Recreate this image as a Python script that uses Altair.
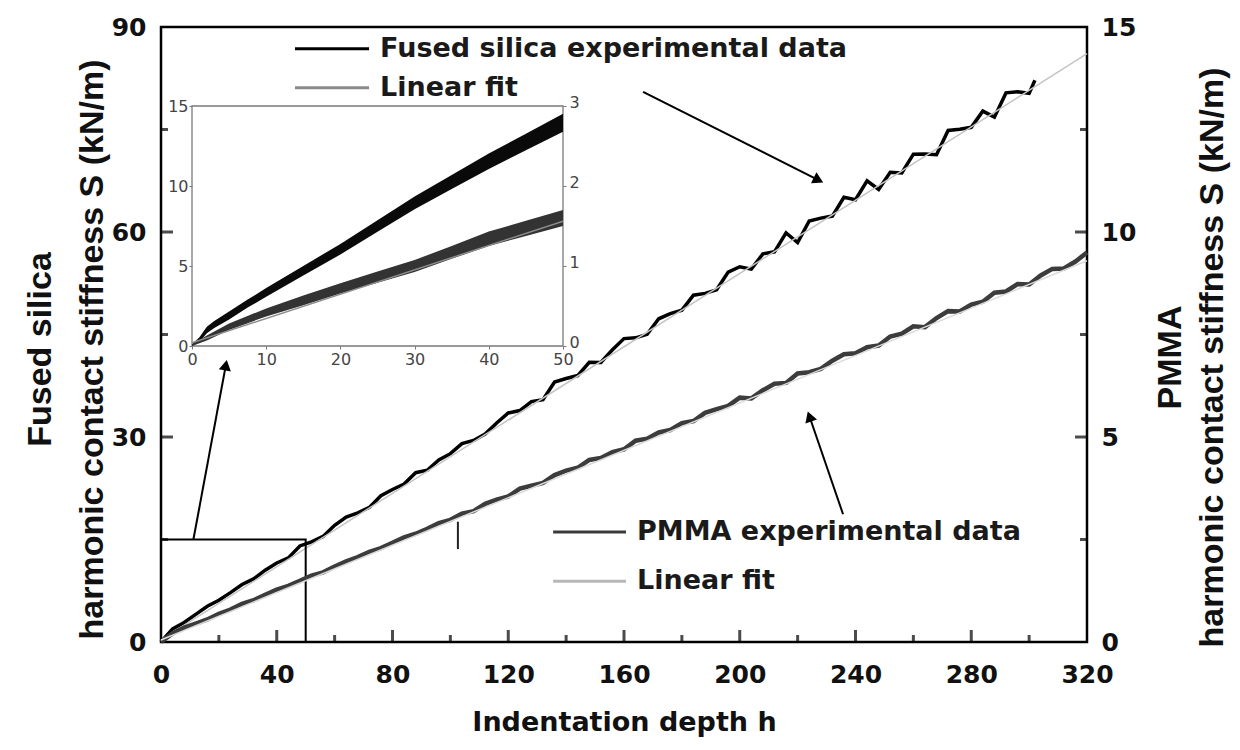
import altair as alt
import pandas as pd

W, H = 926, 615
FONT_H = "DejaVu Sans"
FONT_V = "Liberation Sans"

# ---------------- data ----------------
fs_h = [0, 4, 8, 12, 16, 20, 24, 28, 32, 36,
        40, 44, 48, 52, 56, 60, 64, 68, 72, 76,
        80, 84, 88, 92, 96, 100, 104, 108, 112, 116,
        120, 124, 128, 132, 136, 140, 144, 148, 152, 156,
        160, 164, 168, 172, 176, 180, 184, 188, 192, 196,
        200, 204, 208, 212, 216, 220, 224, 228, 232, 236,
        240, 244, 248, 252, 256, 260, 264, 268, 272, 276,
        280, 284, 288, 292, 296, 300, 302]
fs_S = [0, 1.92, 2.85, 4.05, 5.23, 6.10, 7.22, 8.41, 9.23, 10.51,
        11.56, 12.31, 14.06, 14.66, 15.45, 17.08, 18.27, 18.90, 19.70, 21.41,
        22.32, 23.11, 24.78, 25.14, 26.65, 27.56, 29.03, 29.50, 30.42, 32.05,
        33.52, 33.87, 35.18, 35.46, 38.05, 38.56, 38.99, 40.94, 40.90, 42.77,
        44.40, 44.51, 45.02, 47.30, 48.05, 48.56, 50.75, 51.02, 51.54, 54.13,
        54.92, 54.56, 56.80, 57.10, 59.86, 58.46, 61.61, 62.03, 62.33, 65.09,
        64.73, 67.49, 66.22, 68.73, 68.63, 71.39, 71.42, 71.32, 74.87, 75.03,
        75.32, 77.69, 76.81, 80.36, 80.52, 80.29, 82.2]

pm_h = [0, 4, 8, 12, 16, 20, 24, 28, 32, 36,
        40, 44, 48, 52, 56, 60, 64, 68, 72, 76,
        80, 84, 88, 92, 96, 100, 104, 108, 112, 116,
        120, 124, 128, 132, 136, 140, 144, 148, 152, 156,
        160, 164, 168, 172, 176, 180, 184, 188, 192, 196,
        200, 204, 208, 212, 216, 220, 224, 228, 232, 236,
        240, 244, 248, 252, 256, 260, 264, 268, 272, 276,
        280, 284, 288, 292, 296, 300, 304, 308, 312, 316, 320]
pm_S = [0, 0.21, 0.35, 0.45, 0.55, 0.69, 0.79, 0.93, 1.02, 1.15,
        1.28, 1.37, 1.49, 1.62, 1.70, 1.84, 1.97, 2.07, 2.20, 2.29,
        2.42, 2.55, 2.64, 2.76, 2.90, 2.98, 3.13, 3.19, 3.37, 3.47,
        3.55, 3.74, 3.81, 3.88, 4.07, 4.18, 4.25, 4.44, 4.49, 4.63,
        4.70, 4.91, 4.96, 5.11, 5.17, 5.34, 5.39, 5.59, 5.68, 5.76,
        5.96, 5.94, 6.14, 6.30, 6.32, 6.55, 6.58, 6.66, 6.86, 7.02,
        7.04, 7.19, 7.23, 7.45, 7.52, 7.70, 7.68, 7.90, 8.07, 8.06,
        8.23, 8.30, 8.52, 8.55, 8.73, 8.72, 8.94, 9.10, 9.11, 9.28, 9.50]

fit_h = [0, 320]
fs_fit_S = [0.3, 86.1]
pm_fit_S = [0.05, 9.3]

# inset (0-50 nm)
in_fs_h = [0, 1, 2, 3, 5, 7.5, 10, 15, 20, 25, 30, 35, 40, 45, 50]
in_fs_lo = [0, 0.25, 0.8, 1.13, 1.65, 2.4, 3.08, 4.4, 5.72, 7.14, 8.55, 9.81, 11.07, 12.23, 13.39]
in_fs_hi = [0.1, 0.55, 1.2, 1.57, 2.15, 2.9, 3.62, 5.0, 6.38, 7.86, 9.35, 10.69, 12.03, 13.27, 14.51]
in_pm_h = [0, 2, 5, 10, 15, 20, 25, 30, 35, 40, 45, 50]
in_pm_lo = [0, 0.07, 0.2, 0.37, 0.51, 0.655, 0.79, 0.925, 1.09, 1.25, 1.375, 1.5]
in_pm_hi = [0.02, 0.13, 0.28, 0.47, 0.63, 0.785, 0.93, 1.075, 1.25, 1.43, 1.565, 1.7]
in_fit_h = [0, 50]
in_pm_fit = [0.04, 1.56]

# tick values
x_ticks = [0, 40, 80, 120, 160, 200, 240, 280, 320]
x_major_in = [40, 80, 120, 160, 200, 240, 280]
x_minor_in = [20, 60, 100, 140, 180, 220, 260, 300]
yl_ticks = [0, 30, 60, 90]
yl_major_in = [30, 60]
yl_minor_in = [15, 45, 75]
yr_ticks = [0, 5, 10, 15]
yr_major_in = [5, 10]
yr_minor_in = [2.5, 7.5, 12.5]
in_x_ticks = [0, 10, 20, 30, 40, 50]
in_yl_ticks = [0, 5, 10, 15]
in_yr_ticks = [0, 1, 2, 3]

# legends (in main data coordinates)
leg_text = ["Fused silica experimental data", "Linear fit", "PMMA experimental data", "Linear fit"]
leg_h0 = [46.3, 46.3, 135.5, 135.5]
leg_h1 = [71.9, 71.9, 160.7, 160.7]
leg_th = [75.7, 75.7, 164.5, 164.5]
leg_S = [86.8, 81.1, 16.1, 8.9]
leg_col = ["#000000", "#8a8a8a", "#3a3a3a", "#b8b8b8"]

# arrows (tail -> head) in main data coordinates
arr_h0 = [166.6, 235.7, 11.2]
arr_S0 = [80.5, 18.7, 15.0]
arr_h1 = [227.2, 224.1, 22.4]
arr_S1 = [67.6, 33.0, 40.5]
arr_ang = [26.6, 251.1, 280.6]

# zoom box and a stray mark
box_h = [0, 50]
box_S = [0, 15]
stray_h = [102.6]
stray_S0 = [13.6]
stray_S1 = [17.6]

# ---------------- scales ----------------
X = alt.Scale(domain=[0, 320], nice=False, zero=False)
YL = alt.Scale(domain=[0, 90], nice=False, zero=False)
YR = alt.Scale(domain=[0, 15], nice=False, zero=False)
XI = alt.Scale(domain=[0, 50], range=[31, 402], nice=False, zero=False)
YI = alt.Scale(domain=[0, 15], range=[319, 79], nice=False, zero=False)
YIR = alt.Scale(domain=[0, 3], range=[319, 79], nice=False, zero=False)

x_axis = alt.Axis(orient="bottom", values=x_ticks, ticks=False, domain=False, grid=False,
                  labelFont=FONT_H, labelFontWeight="bold", labelFontSize=25, labelColor="#111",
                  labelPadding=20, labelFlush=False, labelOverlap=False,
                  title="Indentation depth h", titleFont=FONT_H, titleFontWeight="bold",
                  titleFontSize=27, titleColor="#111", titleY=67, titleBaseline="top")
yl_axis = alt.Axis(orient="left", values=yl_ticks, ticks=False, domain=False, grid=False,
                   labelFont=FONT_H, labelFontWeight="bold", labelFontSize=25, labelColor="#111",
                   labelPadding=15, labelFlush=False, labelOverlap=False,
                   title=["Fused silica", "harmonic contact stiffness S (kN/m)"],
                   titleFont=FONT_V, titleFontWeight="bold", titleFontSize=34, titleColor="#111",
                   titleLineHeight=52, titleAngle=270, titleAlign="center", titleBaseline="middle",
                   titleX=-121, titleY=322)
yr_axis = alt.Axis(orient="right", values=yr_ticks, ticks=False, domain=False, grid=False,
                   labelFont=FONT_H, labelFontWeight="bold", labelFontSize=25, labelColor="#111",
                   labelPadding=14, labelFlush=False, labelOverlap=False,
                   title=["PMMA", "harmonic contact stiffness S (kN/m)"],
                   titleFont=FONT_V, titleFontWeight="bold", titleFontSize=34, titleColor="#111",
                   titleLineHeight=42, titleAngle=270, titleAlign="center", titleBaseline="middle",
                   titleX=83, titleY=330)
in_x_axis = alt.Axis(orient="bottom", offset=-296, values=in_x_ticks, domain=False, ticks=True,
                     tickSize=3, tickColor="#777", grid=False, labelFont=FONT_H, labelFontSize=16,
                     labelColor="#444", labelPadding=2, labelFlush=False, labelOverlap=False, title=None)
in_yl_axis = alt.Axis(orient="left", offset=-31, values=in_yl_ticks, domain=False, ticks=True,
                      tickSize=3, tickColor="#777", grid=False, labelFont=FONT_H, labelFontSize=16,
                      labelColor="#444", labelPadding=1, labelFlush=False, labelOverlap=False, title=None)
in_yr_axis = alt.Axis(orient="right", offset=-524, values=in_yr_ticks, domain=False, ticks=True,
                      tickSize=3, tickColor="#777", grid=False, labelFont=FONT_H, labelFontSize=16,
                      labelColor="#444", labelPadding=3, labelOffset=-4, labelFlush=False,
                      labelOverlap=False, title=None)

# ---------------- data frames ----------------
df_fs = pd.DataFrame({"h": fs_h, "S": fs_S})
df_pm = pd.DataFrame({"h": pm_h, "S": pm_S})
df_fs_fit = pd.DataFrame({"h": fit_h, "S": fs_fit_S})
df_pm_fit = pd.DataFrame({"h": fit_h, "S": pm_fit_S})
df_leg = pd.DataFrame({"h0": leg_h0, "h1": leg_h1, "th": leg_th, "S": leg_S, "txt": leg_text, "col": leg_col})
df_arr = pd.DataFrame({"h0": arr_h0, "S0": arr_S0, "h1": arr_h1, "S1": arr_S1, "ang": arr_ang})
df_box = pd.DataFrame({"h0": [box_h[0]], "h1": [box_h[1]], "S0": [box_S[0]], "S1": [box_S[1]]})
df_stray = pd.DataFrame({"h": stray_h, "S0": stray_S0, "S1": stray_S1})
df_xmaj = pd.DataFrame({"v": x_major_in, "base": [0] * len(x_major_in)})
df_xmin = pd.DataFrame({"v": x_minor_in, "base": [0] * len(x_minor_in)})
df_ylmaj = pd.DataFrame({"v": yl_major_in, "base": [0] * len(yl_major_in)})
df_ylmin = pd.DataFrame({"v": yl_minor_in, "base": [0] * len(yl_minor_in)})
df_yrmaj = pd.DataFrame({"v": yr_major_in, "base": [320] * len(yr_major_in)})
df_yrmin = pd.DataFrame({"v": yr_minor_in, "base": [320] * len(yr_minor_in)})
df_in_fs = pd.DataFrame({"h": in_fs_h, "lo": in_fs_lo, "hi": in_fs_hi})
df_in_pm = pd.DataFrame({"h": in_pm_h, "lo": in_pm_lo, "hi": in_pm_hi})
df_in_pm_fit = pd.DataFrame({"h": in_fit_h, "S": in_pm_fit})
df_in_frame = pd.DataFrame({"h0": [0], "h1": [50], "S0": [0], "S1": [15]})


# helpers: every layer of a group carries the same axis so the shared axis survives
def mx(field):
    return alt.X(field, type="quantitative", scale=X, axis=x_axis)


def myl(field):
    return alt.Y(field, type="quantitative", scale=YL, axis=yl_axis)


# ---------------- main (left scale) ----------------
fs_line = alt.Chart(df_fs).mark_line(color="black", strokeWidth=3.5).encode(x=mx("h"), y=myl("S"))
fs_fit = alt.Chart(df_fs_fit).mark_line(color="#c4c4c4", strokeWidth=1.5).encode(x=mx("h"), y=myl("S"))
box = alt.Chart(df_box).mark_rect(fillOpacity=0, stroke="black", strokeWidth=2).encode(
    x=mx("h0"), x2="h1:Q", y=myl("S0"), y2="S1:Q")
stray = alt.Chart(df_stray).mark_rule(color="#222", strokeWidth=2).encode(
    x=mx("h"), y=myl("S0"), y2="S1:Q")
arr_lines = alt.Chart(df_arr).mark_rule(color="black", strokeWidth=2).encode(
    x=mx("h0"), x2="h1:Q", y=myl("S0"), y2="S1:Q")
arr_heads = alt.Chart(df_arr).mark_point(shape="triangle-right", filled=True, size=150,
                                          color="black", opacity=1).encode(
    x=mx("h1"), y=myl("S1"), angle=alt.Angle("ang:Q", scale=None))
leg_lines = alt.Chart(df_leg).mark_rule(strokeWidth=3).encode(
    x=mx("h0"), x2="h1:Q", y=myl("S"), color=alt.Color("col:N", scale=None))
leg_texts = alt.Chart(df_leg).mark_text(align="left", baseline="middle", font=FONT_H,
                                         fontWeight="bold", fontSize=27, color="#1a1a1a").encode(
    x=mx("th"), y=myl("S"), text="txt:N")
xt_maj = alt.Chart(df_xmaj).mark_tick(orient="vertical", size=12, thickness=3, color="black",
                                      yOffset=-6).encode(x=mx("v"), y=myl("base"))
xt_min = alt.Chart(df_xmin).mark_tick(orient="vertical", size=7, thickness=3, color="black",
                                      yOffset=-3.5).encode(x=mx("v"), y=myl("base"))
yt_maj = alt.Chart(df_ylmaj).mark_tick(orient="horizontal", size=12, thickness=3, color="black",
                                       xOffset=6).encode(x=mx("base"), y=myl("v"))
yt_min = alt.Chart(df_ylmin).mark_tick(orient="horizontal", size=7, thickness=3, color="black",
                                       xOffset=3.5).encode(x=mx("base"), y=myl("v"))

main = alt.layer(fs_line, fs_fit, box, stray, arr_lines, arr_heads, leg_lines, leg_texts,
                 xt_maj, xt_min, yt_maj, yt_min)


# ---------------- PMMA (right scale) ----------------
def px(field):
    return alt.X(field, type="quantitative", scale=X, axis=None)


def pyr(field):
    return alt.Y(field, type="quantitative", scale=YR, axis=yr_axis)


pm_line = alt.Chart(df_pm).mark_line(color="#3c3c3c", strokeWidth=4.5).encode(x=px("h"), y=pyr("S"))
pm_fit = alt.Chart(df_pm_fit).mark_line(color="#dadada", strokeWidth=1.5).encode(x=px("h"), y=pyr("S"))
yrt_maj = alt.Chart(df_yrmaj).mark_tick(orient="horizontal", size=12, thickness=3, color="black",
                                        xOffset=-6).encode(x=px("base"), y=pyr("v"))
yrt_min = alt.Chart(df_yrmin).mark_tick(orient="horizontal", size=7, thickness=3, color="black",
                                        xOffset=-3.5).encode(x=px("base"), y=pyr("v"))
pmma = alt.layer(pm_line, pm_fit, yrt_maj, yrt_min)


# ---------------- inset ----------------
def ix(field):
    return alt.X(field, type="quantitative", scale=XI, axis=in_x_axis)


def iyl(field):
    return alt.Y(field, type="quantitative", scale=YI, axis=in_yl_axis)


def iyr(field):
    return alt.Y(field, type="quantitative", scale=YIR, axis=in_yr_axis)


in_frame = alt.Chart(df_in_frame).mark_rect(fillOpacity=0, stroke="#7a7a7a", strokeWidth=1.3).encode(
    x=ix("h0"), x2="h1:Q", y=iyl("S0"), y2="S1:Q")
in_fs_area = alt.Chart(df_in_fs).mark_area(color="#0a0a0a", opacity=1).encode(
    x=ix("h"), y=iyl("lo"), y2="hi:Q")
inset_fs = alt.layer(in_frame, in_fs_area)

in_pm_area = alt.Chart(df_in_pm).mark_area(color="#333333", opacity=1).encode(
    x=ix("h"), y=iyr("lo"), y2="hi:Q")
in_pm_fit_line = alt.Chart(df_in_pm_fit).mark_line(color="#8c8c8c", strokeWidth=1.5).encode(
    x=ix("h"), y=iyr("S"))
inset_pm = alt.layer(in_pm_area, in_pm_fit_line)

inset = alt.layer(inset_fs, inset_pm).resolve_scale(y="independent")

chart = alt.layer(main, pmma, inset).resolve_scale(
    x="independent", y="independent"
).properties(
    width=W, height=H,
    autosize=alt.AutoSizeParams(type="none"),
    padding={"left": 153, "top": 19, "right": 145, "bottom": 96},
    background="white",
).configure_view(stroke="black", strokeWidth=2.5)

chart.save("out.html", embed_options={"renderer": "svg", "actions": False})
